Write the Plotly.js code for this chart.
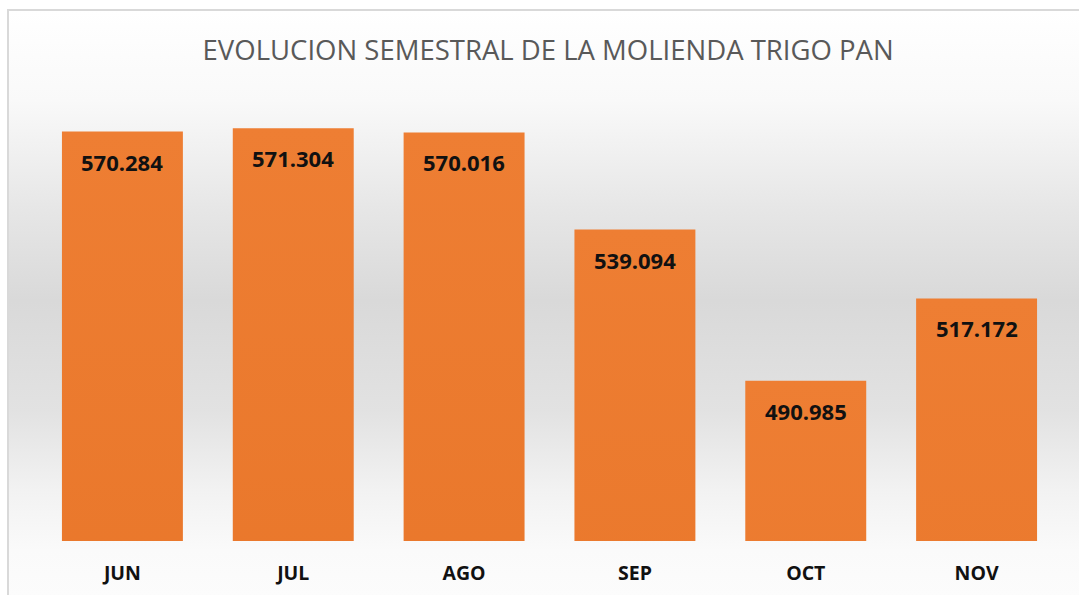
<!DOCTYPE html>
<html>
<head>
<meta charset="utf-8">
<script src="https://cdn.plot.ly/plotly-3.0.1.min.js"></script>
<style>
  html, body { margin: 0; padding: 0; background: #ffffff; }
  #wrap { position: absolute; left: 0; top: 0; width: 1079px; height: 595px; background: #ffffff; }
  #bg { position: absolute; left: 7px; top: 9px; width: 1072px; height: 586px;
        border-left: 2px solid #d9d9d9; border-top: 2px solid #d9d9d9; box-sizing: border-box;
        background: linear-gradient(to bottom, #ffffff 0px, #f9f9f9 90px, #e6e6e6 200px, #d9d9d9 290px, #e2e2e2 400px, #f2f2f2 480px, #fafafa 540px, #fcfcfc 586px); }
  #chart { position: absolute; left: 0; top: 0; width: 1079px; height: 595px; }
</style>
</head>
<body>
<div id="wrap"><div id="bg"></div><div id="chart"></div></div>
<script>
const months = ["JUN", "JUL", "AGO", "SEP", "OCT", "NOV"];
const molienda = [570284, 571304, 570016, 539094, 490985, 517172];
const chartTitle = "EVOLUCION SEMESTRAL DE LA MOLIENDA TRIGO PAN";

const trace = {
  type: "bar",
  x: months,
  y: molienda,
  marker: { color: "#E7722A", line: { width: 0 } },
  hoverinfo: "skip"
};

const fmt = v => String(v).replace(/\B(?=(\d{3})+(?!\d))/g, ".");
const annotations = months.map((m, i) => ({
  x: m, y: molienda[i], xref: "x", yref: "y",
  text: fmt(molienda[i]), showarrow: false,
  yanchor: "middle", yshift: -30,
  font: { family: "Open Sans, Noto Sans, sans-serif", size: 22, color: "#111111", weight: 700 }
}));

const layout = {
  width: 1079, height: 595,
  margin: { l: 37, r: 17, t: 101, b: 54 },
  paper_bgcolor: "rgba(0,0,0,0)",
  plot_bgcolor: "rgba(0,0,0,0)",
  showlegend: false,
  bargap: 0.292,
  title: {
    text: chartTitle,
    x: 0.508, xanchor: "center",
    y: 0.915, yanchor: "middle",
    font: { family: "Open Sans, Noto Sans, sans-serif", size: 27.5, color: "#595959" }
  },
  xaxis: {
    type: "category",
    showgrid: false, zeroline: false, showline: false,
    ticks: "", ticklabelstandoff: 18,
    tickfont: { family: "Open Sans, Noto Sans, sans-serif", size: 19.5, color: "#111111", weight: 700 }
  },
  yaxis: {
    range: [440000, 580000],
    visible: false, showgrid: false, zeroline: false, fixedrange: true
  },
  annotations: annotations
};

Plotly.newPlot("chart", [trace], layout, { displayModeBar: false, staticPlot: true }).then(gd => {
  const svg = gd.querySelector("svg.main-svg");
  const NS = "http://www.w3.org/2000/svg";
  let defs = svg.querySelector("defs");
  if (!defs) { defs = document.createElementNS(NS, "defs"); svg.insertBefore(defs, svg.firstChild); }
  const lg = document.createElementNS(NS, "linearGradient");
  lg.setAttribute("id", "barGrad");
  lg.setAttribute("x1", "0"); lg.setAttribute("y1", "0");
  lg.setAttribute("x2", "0"); lg.setAttribute("y2", "1");
  [["0", "#EE7E33"], ["1", "#DC6414"]].forEach(([o, c]) => {
    const s = document.createElementNS(NS, "stop");
    s.setAttribute("offset", o); s.setAttribute("stop-color", c);
    lg.appendChild(s);
  });
  defs.appendChild(lg);
  gd.querySelectorAll(".bars .point path").forEach(p => { p.style.fill = "url(#barGrad)"; });
});
</script>
</body>
</html>
